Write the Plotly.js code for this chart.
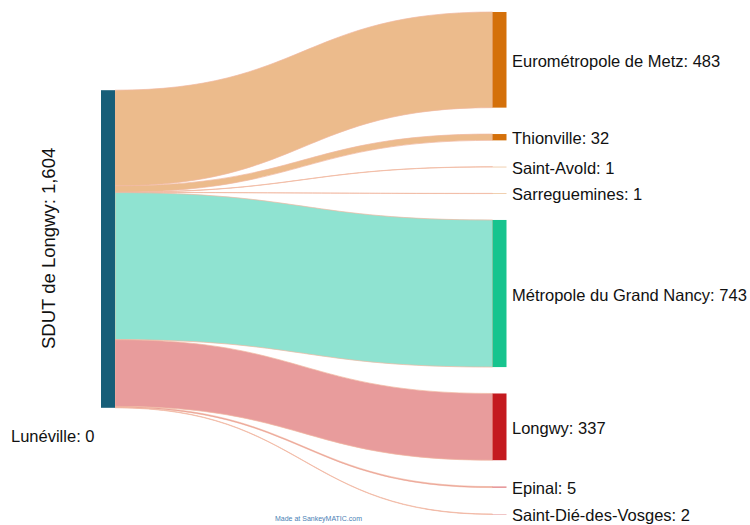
<!DOCTYPE html>
<html>
<head>
<meta charset="utf-8">
<script src="https://cdn.plot.ly/plotly-3.0.1.min.js"></script>
<style>html,body{margin:0;padding:0;background:#fff;}#chart{width:750px;height:525px;}</style>
</head>
<body>
<div id="chart"></div>
<script>
// ---- data ----
var sourceName = 'SDUT de Longwy';
var targetNames = ['Eurométropole de Metz', 'Thionville', 'Saint-Avold', 'Sarreguemines',
                   'Métropole du Grand Nancy', 'Longwy', 'Epinal', 'Saint-Dié-des-Vosges'];
var targetValues = [483, 32, 1, 1, 743, 337, 5, 2];
var isolatedName = 'Lunéville';
var isolatedValue = 0;

// ---- styles ----
var sourceColor = '#175e78';
var nodeColors = ['#d4700a', '#d4700a', '#e0a060', '#e0a060', '#17c48e', '#c41a1f', '#d85a5e', '#e08a8c'];
var linkColors = ['#ecbb8c', '#ecbb8c', '#f0c098', '#f0c098', '#8fe3d1', '#e89c9c', '#e4898b', '#ee9fa1'];
var linkLineColors = ['#ecbb8c', '#ecbb8c', '#f0c098', '#f0c098', '#8fe3d1', '#e89c9c', '#e4898b', '#ee9fa1'];
var FONT = 'Liberation Sans, Arial, sans-serif';

var W = 750, Hpx = 525;
var topPx = 12, pad = 26.4, scale = 0.198;
var total = targetValues.reduce(function(a, b){ return a + b; }, 0);
var domH = total * scale + (targetValues.length - 1) * pad;

function fmt(v){ return v.toLocaleString('en-US'); }

// node positions (layout)
var ty = [], cur = 0;
targetValues.forEach(function(v){
  var h = v * scale;
  ty.push((cur + h / 2) / domH);
  cur += h + pad;
});
var sourceCenterPx = 249 - topPx;

var nx = [108 / W].concat(targetNames.map(function(){ return 499.5 / W; }));
var ny = [sourceCenterPx / domH].concat(ty);

var data = [{
  type: 'sankey',
  arrangement: 'fixed',
  domain: {x: [0, 1], y: [1 - (topPx + domH) / Hpx, 1 - topPx / Hpx]},
  hoverinfo: 'skip',
  textfont: {family: FONT, size: 1, color: 'rgba(0,0,0,0)'},
  node: {
    label: [sourceName].concat(targetNames),
    x: nx,
    y: ny,
    pad: pad,
    thickness: 14,
    color: [sourceColor].concat(nodeColors),
    line: {width: 0},
    hoverinfo: 'skip'
  },
  link: {
    source: targetValues.map(function(){ return 0; }),
    target: targetValues.map(function(v, i){ return i + 1; }),
    value: targetValues,
    color: linkColors,
    line: {color: '#f0b8a0', width: 0.7},
    hoverinfo: 'skip'
  }
}];

var annotations = [
  {text: sourceName + ': ' + fmt(total), textangle: -90, x: 48 / W, y: 1 - 249 / Hpx,
   xref: 'paper', yref: 'paper', showarrow: false, xanchor: 'center', yanchor: 'middle',
   font: {size: 18.5, color: '#111', family: FONT}},
  {text: isolatedName + ': ' + fmt(isolatedValue), x: 9 / W, y: 1 - 436 / Hpx,
   xref: 'paper', yref: 'paper', showarrow: false, xanchor: 'left', yanchor: 'middle',
   font: {size: 16.5, color: '#111', family: FONT}},
  {text: 'Made at SankeyMATIC.com', x: 318 / W, y: 1 - 519 / Hpx,
   xref: 'paper', yref: 'paper', showarrow: false, xanchor: 'center', yanchor: 'middle',
   font: {size: 7, color: '#4a7fb5', family: FONT}}
];
// target labels placed to the right of each target node
targetNames.forEach(function(n, i){
  annotations.push({
    text: n + ': ' + fmt(targetValues[i]),
    x: 510 / W, y: 1 - (topPx + ty[i] * domH + 1) / Hpx,
    xref: 'paper', yref: 'paper', showarrow: false, xanchor: 'left', yanchor: 'middle',
    font: {size: 16.5, color: '#111', family: FONT}
  });
});

var layout = {
  width: W, height: Hpx,
  margin: {l: 0, r: 0, t: 0, b: 0},
  paper_bgcolor: '#ffffff',
  font: {family: FONT},
  showlegend: false,
  annotations: annotations
};

Plotly.newPlot('chart', data, layout, {displayModeBar: false, staticPlot: true});
</script>
</body>
</html>
